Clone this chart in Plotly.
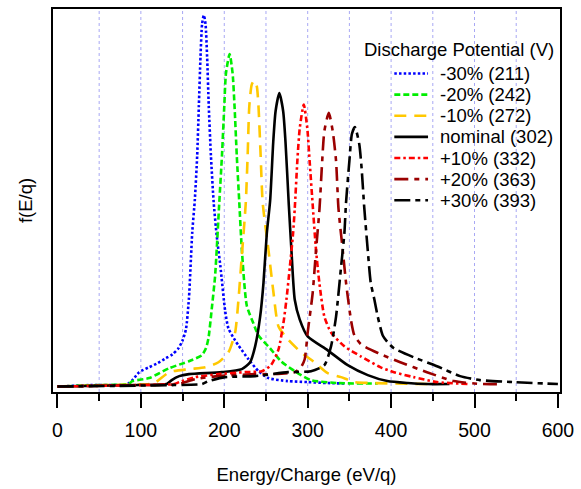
import plotly.graph_objects as go

# ---- data (energy in eV/q, f(E/q) in arbitrary units) ----
labels = ["-30% (211)", "-20% (242)", "-10% (272)", "nominal (302)",
          "+10% (332)", "+20% (363)", "+30% (393)"]

E_m30 = [0, 40, 84, 91, 98, 110, 120, 130, 138, 145, 150, 154, 157.6, 161.6, 164.7, 167.5, 169.5, 171.5, 173.4,
         175.5, 177.5, 179.4, 181.4, 184, 187.3, 191, 195.3, 201, 205, 213, 217, 229, 241, 253, 276, 300, 324, 345]
f_m30 = [-1.5, 0, 1, 6, 13, 18, 22, 27, 31, 37, 45, 56, 87, 154, 187, 231, 281, 331, 364,
         372.7, 364, 331, 281, 231, 184, 150, 120, 75, 57, 45, 40, 26, 14, 7, 4, 3, 2, 1.5]

E_m20 = [0, 50, 85, 90, 110, 134, 157.6, 173, 178, 181, 185, 189, 194, 197.2, 200, 202, 206.4,
         210, 212.3, 215, 218, 221, 227, 235, 241, 255, 268, 284.5, 304, 336, 384]
f_m20 = [-1.5, 0, 1, 4, 7, 17, 24, 30, 37, 47, 77, 110, 184, 231, 281, 314, 333.7,
         314, 281, 231, 184, 137, 80, 62, 50, 37, 24, 14, 5, 2, 1.5]

E_m10 = [0, 60, 110, 118, 134, 157.6, 177.5, 193, 205, 213, 217, 221, 225.8, 228, 230, 233, 236,
         239, 241, 243.6, 246, 253, 259, 265, 276.5, 292, 308, 324, 340, 356, 380, 447]
f_m10 = [-1.5, 0, 1, 3, 13, 16, 18, 23, 33, 53, 86, 130, 184, 231, 281, 303, 307,
         301, 281, 231, 184, 136, 93, 59, 46, 33, 23, 12, 8, 3, 2, 1]

E_nom = [0, 100, 131, 137, 146, 157.6, 197, 221, 231, 237, 243, 247, 251, 255, 258.7, 261.5, 266,
         270.6, 273.4, 277.4, 280.5, 284.5, 290.5, 300, 324, 348, 372, 395.5, 420, 443, 470]
f_nom = [-1.5, 0, 1, 5, 9, 11, 13, 16, 23, 39, 69, 103, 153, 186, 245, 276, 294.3,
         276, 245, 181, 136, 86, 66, 49, 35, 20, 10, 4, 2, 1, 1]

E_p10 = [0, 100, 140, 146, 165.6, 193, 225, 245, 256, 265, 271, 274.5, 278.6, 282.5, 284.5, 287.6, 290.5,
         295.3, 299.5, 302.3, 306.3, 310, 314, 320, 328, 344, 363.5, 387, 403.5, 427, 455, 494]
f_p10 = [-1.5, 0, 1, 3, 8, 11, 13, 14, 20, 36, 63, 86, 119, 153, 178, 226, 259,
         282.7, 259, 226, 178, 136, 103, 69, 53, 39, 29, 18, 13, 8, 3, 1]

E_p20 = [0, 100, 145, 165, 193, 237, 256, 284.5, 292, 296.4, 300, 306, 310, 314.2, 317.4, 320,
         325.3, 330, 334, 336.9, 342, 346, 352, 356, 364, 385, 411, 443, 475, 510, 534]
f_p20 = [-1.5, 0, 1, 6, 9, 11, 11, 13, 18, 26, 53, 93, 136, 178, 226, 256,
         274.3, 256, 226, 178, 136, 103, 65, 50, 41, 32, 23, 13, 4, 1, 1]

E_p30 = [0, 140, 173, 181, 201, 237, 276.5, 304, 320, 328, 334, 340, 344, 345.9, 350, 353,
         356.6, 361.8, 364.6, 367.8, 372, 375.6, 380, 384, 390, 396, 403.5, 427, 455, 482.7, 506.5, 546, 600]
f_p30 = [-1.5, 0, 1, 4, 8, 9, 13, 14, 20, 39, 69, 119, 153, 183, 226, 253,
         260, 243, 219, 179, 136, 103, 86, 69, 50, 43, 37, 28, 19, 9, 5, 3, 1]

series_E = [E_m30, E_m20, E_m10, E_nom, E_p10, E_p20, E_p30]
series_f = [f_m30, f_m20, f_m10, f_nom, f_p10, f_p20, f_p30]

colors = ["#0000ff", "#00ee00", "#ffc800", "#000000", "#ff0000", "#9a0000", "#000000"]
dashes = ["2.5px,2.2px", "6px,3px", "12px,8px", "solid",
          "6px,3px,2.5px,3px", "14px,6px,5px,6px", "16px,5px,5px,5px"]

FONT = "Liberation Sans, Arial, sans-serif"

fig = go.Figure()
for E, f, lab, c, d in zip(series_E, series_f, labels, colors, dashes):
    fig.add_trace(go.Scatter(x=E, y=f, name=lab, mode="lines", showlegend=False,
                             line=dict(color=c, width=2.6, dash=d, shape="spline", smoothing=0.6)))

# vertical dotted grid lines
for gx in range(50, 600, 50):
    fig.add_shape(type="line", xref="x", yref="paper", x0=gx, x1=gx, y0=0, y1=1,
                  line=dict(color="#a8a8f4", width=1, dash="dot"), layer="below")

# plot area geometry for manual legend (pixels)
L, R, T, B = 53, 17, 7, 96
W, H = 581, 489
pw, ph = W - L - R, H - T - B

def px(xp):
    return (xp - L) / pw

def py(yp):
    return (H - B - yp) / ph

fig.add_annotation(text="Discharge Potential (V)", xref="paper", yref="paper",
                   x=px(364), y=py(48), xanchor="left", yanchor="middle", showarrow=False,
                   font=dict(family=FONT, size=18.5, color="black"))
for i, (lab, c, d) in enumerate(zip(labels, colors, dashes)):
    yy = 72 + 21.3 * i
    fig.add_shape(type="line", xref="paper", yref="paper", x0=px(397), x1=px(431), y0=py(yy), y1=py(yy),
                  line=dict(color=c, width=2.6, dash=d))
    fig.add_annotation(text=lab, xref="paper", yref="paper", x=px(441), y=py(yy),
                       xanchor="left", yanchor="middle", showarrow=False,
                       font=dict(family=FONT, size=18.5, color="black"))

fig.update_layout(
    width=W, height=H, margin=dict(l=L, r=R, t=T, b=B),
    paper_bgcolor="white", plot_bgcolor="white",
    font=dict(family=FONT, size=18, color="black"),
    showlegend=False,
    xaxis=dict(range=[-5.35, 602.5], tick0=0, dtick=100, ticks="outside", ticklen=14, tickwidth=2,
               tickcolor="black", showline=True, linewidth=2, linecolor="black", mirror=True,
               showgrid=False, zeroline=False, tickfont=dict(size=19.5), ticklabelstandoff=6,
               minor=dict(dtick=50, tick0=0, ticks="outside", ticklen=7, tickwidth=2, tickcolor="black",
                          showgrid=False),
               title=dict(text="Energy/Charge (eV/q)", font=dict(size=18.5), standoff=28)),
    yaxis=dict(range=[-7, 379], showticklabels=False, ticks="", showline=True, linewidth=2,
               linecolor="black", mirror=True, showgrid=False, zeroline=False,
               title=dict(text="f(E/q)", font=dict(size=18.5), standoff=14)),
)

fig.write_html("out.html")
